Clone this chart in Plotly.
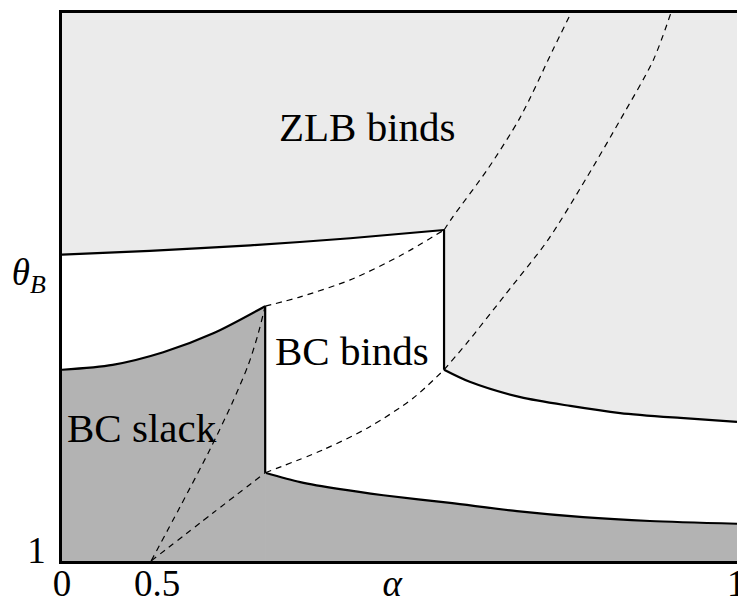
import plotly.graph_objects as go

# Abstract coordinates: x in [0,1] across the plot, y in [0,1] bottom to top
# Lower edge of the "ZLB binds" region, left part (alpha below the jump)
zlb_left_x = [0.000, 0.130, 0.279, 0.427, 0.566]
zlb_left_y = [0.559, 0.566, 0.576, 0.589, 0.604]
# Lower edge of the "ZLB binds" region, right part
zlb_right_x = [0.566, 0.604, 0.679, 0.753, 0.827, 0.916, 1.000]
zlb_right_y = [0.349, 0.327, 0.299, 0.283, 0.270, 0.261, 0.254]
# Upper edge of the "BC slack" region, left part
slack_left_x = [0.000, 0.075, 0.150, 0.225, 0.301]
slack_left_y = [0.349, 0.358, 0.381, 0.416, 0.465]
# Upper edge of the "BC slack" region, right part
slack_right_x = [0.301, 0.353, 0.412, 0.476, 0.575, 0.674, 0.772, 0.871, 1.000]
slack_right_y = [0.161, 0.144, 0.131, 0.120, 0.106, 0.091, 0.080, 0.073, 0.068]

# Dashed curves
dashA_x = [0.132, 0.175, 0.219, 0.252, 0.276, 0.290, 0.301]
dashA_y = [0.000, 0.099, 0.203, 0.288, 0.358, 0.412, 0.465]
dashB_x = [0.132, 0.224, 0.301]
dashB_y = [0.000, 0.088, 0.161]
dashC_x = [0.301, 0.353, 0.427, 0.501, 0.566]
dashC_y = [0.465, 0.482, 0.513, 0.557, 0.604]
dashD_x = [0.301, 0.387, 0.456, 0.520, 0.566]
dashD_y = [0.161, 0.203, 0.245, 0.297, 0.349]
dashE_x = [0.566, 0.579, 0.630, 0.679, 0.727, 0.754]
dashE_y = [0.604, 0.628, 0.714, 0.810, 0.932, 1.000]
dashF_x = [0.566, 0.600, 0.656, 0.720, 0.778, 0.827, 0.876, 0.902]
dashF_y = [0.349, 0.398, 0.485, 0.586, 0.701, 0.805, 0.914, 1.000]

# Tick labels
x_tickvals = [0.0, 0.141, 0.489, 0.999]
x_ticktext = ["0", "0.5", "<i>α</i>", "1"]
y_tickvals = [0.02, 0.527]
y_ticktext = ["1", "<i>θ</i><sub><i>B</i></sub>"]

# Region labels
label_text = ["ZLB binds", "BC binds", "BC slack"]
label_x = [0.452, 0.430, 0.119]
label_y = [0.792, 0.383, 0.243]

LIGHT = "#ebebeb"
DARK = "#b3b3b3"
FONT = "Liberation Serif, Times New Roman, serif"

fig = go.Figure()

# White area below the ZLB boundary (background is light gray)
for xs, ys in [(zlb_left_x, zlb_left_y), (zlb_right_x, zlb_right_y)]:
    fig.add_trace(go.Scatter(x=xs, y=ys, mode="lines", fill="tozeroy",
                             fillcolor="white",
                             line=dict(color="black", width=2.2, shape="spline",
                                       smoothing=0.8),
                             hoverinfo="skip", showlegend=False))
# Dark gray BC slack area
for xs, ys in [(slack_left_x, slack_left_y), (slack_right_x, slack_right_y)]:
    fig.add_trace(go.Scatter(x=xs, y=ys, mode="lines", fill="tozeroy",
                             fillcolor=DARK,
                             line=dict(color="black", width=2.2, shape="spline",
                                       smoothing=0.8),
                             hoverinfo="skip", showlegend=False))
# hide the seam between the two dark fills
fig.add_trace(go.Scatter(x=[slack_right_x[0], slack_right_x[0]],
                         y=[0, slack_right_y[0]], mode="lines",
                         line=dict(color=DARK, width=1.5),
                         hoverinfo="skip", showlegend=False))

# Vertical jumps
fig.add_trace(go.Scatter(x=[slack_left_x[-1], slack_right_x[0]],
                         y=[slack_left_y[-1], slack_right_y[0]], mode="lines",
                         line=dict(color="black", width=2.2),
                         hoverinfo="skip", showlegend=False))
fig.add_trace(go.Scatter(x=[zlb_left_x[-1], zlb_right_x[0]],
                         y=[zlb_left_y[-1], zlb_right_y[0]], mode="lines",
                         line=dict(color="black", width=2.2),
                         hoverinfo="skip", showlegend=False))

# Dashed curves
for xs, ys in [(dashA_x, dashA_y), (dashB_x, dashB_y), (dashC_x, dashC_y),
               (dashD_x, dashD_y), (dashE_x, dashE_y), (dashF_x, dashF_y)]:
    fig.add_trace(go.Scatter(x=xs, y=ys, mode="lines",
                             line=dict(color="black", width=1.2, shape="spline",
                                       smoothing=0.8, dash="6px,5px"),
                             hoverinfo="skip", showlegend=False))

for t, x, y in zip(label_text, label_x, label_y):
    fig.add_annotation(x=x, y=y, text=t, showarrow=False,
                       font=dict(family=FONT, size=41, color="black"),
                       xanchor="center", yanchor="middle")

fig.update_layout(
    width=738, height=601,
    margin=dict(l=62, r=1, t=13, b=40, autoexpand=False),
    plot_bgcolor=LIGHT, paper_bgcolor="white",
    font=dict(family=FONT, size=37, color="black"),
    xaxis=dict(range=[0, 1], showgrid=False, zeroline=False, showline=True,
               linecolor="black", linewidth=2.5, mirror=True, ticks="",
               tickvals=x_tickvals, ticktext=x_ticktext, fixedrange=True,
               automargin=False, ticklabelstandoff=-12,
               ticklabeloverflow="allow"),
    yaxis=dict(range=[0, 1], showgrid=False, zeroline=False, showline=True,
               linecolor="black", linewidth=2.5, ticks="",
               tickvals=y_tickvals, ticktext=y_ticktext, ticklabelstandoff=6,
               fixedrange=True, automargin=False, ticklabeloverflow="allow"),
)

fig.write_html(
    "out.html",
    config={"displayModeBar": False},
    post_script="document.body.style.margin='0';document.body.style.overflow='hidden';",
)
